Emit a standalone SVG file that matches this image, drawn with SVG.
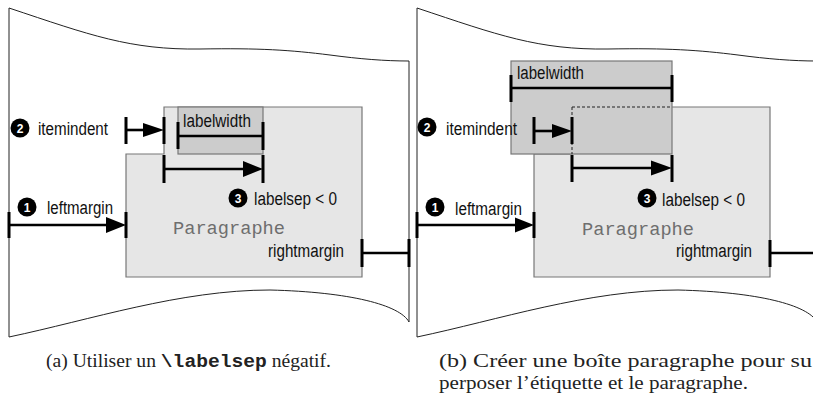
<svg xmlns="http://www.w3.org/2000/svg" width="813" height="395" viewBox="0 0 813 395">
<style>
.page{fill:none;stroke:#222;stroke-width:1}
.para{fill:#e6e6e6;stroke:#777;stroke-width:1.2}
.lab{fill:#cccccc;stroke:#777;stroke-width:1.2}
.dash{fill:none;stroke:#222;stroke-width:1;stroke-dasharray:3 2}
.m{fill:none;stroke:#000;stroke-width:2.6}
.t{fill:none;stroke:#000;stroke-width:3}
.ah{fill:#000}
.lbl{font-family:"Liberation Sans",Arial,sans-serif;font-size:18px;fill:#111}
.mono{font-family:"Liberation Mono","Courier New",monospace;font-size:18px;fill:#6e6e6e}
.num{fill:#000}
.numt{font-family:"Liberation Sans",Arial,sans-serif;font-size:12px;font-weight:bold;fill:#fff;text-anchor:middle}
.cap{font-family:"Liberation Serif","Times New Roman",serif;font-size:18.5px;fill:#222}
.tt{font-family:"Liberation Mono","Courier New",monospace;font-weight:bold}
</style>

<g id="page-a">
  <path class="page" d="M9,8 C90,35 130,50 200,49 C260,48 290,50 330,55 C360,59 385,61 409,61"/>
  <path class="page" d="M9,8 V337"/>
  <path class="page" d="M409,61 V322"/>
  <path class="page" d="M9,337 C90,320 180,290 270,290 C350,292 400,305 409,322"/>
</g>
<g id="page-b">
  <path class="page" d="M417,8 C498,35 538,50 608,49 C668,48 698,50 738,55 C768,59 793,61 817,61"/>
  <path class="page" d="M417,8 V337"/>
  <path class="page" d="M417,337 C498,320 588,290 678,290 C758,292 808,305 817,322"/>
</g>

<g id="paragraph-a">
  <path class="para" d="M164,107 H362 V277 H126 V154 H164 Z"/>
  <text class="mono" x="173" y="234" textLength="112" lengthAdjust="spacingAndGlyphs">Paragraphe</text>
</g>
<g id="label-a">
  <rect class="lab" x="178" y="107" width="85" height="47"/>
  <text class="lbl" x="183" y="127" textLength="68" lengthAdjust="spacingAndGlyphs">labelwidth</text>
</g>

<g id="paragraph-b">
  <path class="para" d="M572,107 H770 V277 H534 V154 H572 Z"/>
  <text class="mono" x="582" y="235" textLength="112" lengthAdjust="spacingAndGlyphs">Paragraphe</text>
</g>
<g id="label-b">
  <rect class="lab" x="511" y="61" width="161" height="93"/>
  <path class="dash" d="M572,107 H672 M572,107 V154"/>
  <text class="lbl" x="517" y="79" textLength="67" lengthAdjust="spacingAndGlyphs">labelwidth</text>
</g>

<g id="connectors">
  <path class="t" d="M178,122 V149 M263,122 V150"/>
  <path class="m" d="M178,136 H263"/>
  <path class="t" d="M126,117 V144 M164,117 V144"/>
  <path class="m" d="M126,130 H146"/>
  <path class="ah" d="M143,123 L164,130 L143,137 Z"/>
  <path class="t" d="M164,155 V183 M263,155 V183"/>
  <path class="m" d="M164,169 H246"/>
  <path class="ah" d="M243,161 L263,169 L243,177 Z"/>
  <path class="t" d="M9,212 V238 M126,212 V238"/>
  <path class="m" d="M9,225 H109"/>
  <path class="ah" d="M106,217 L126,225 L106,233 Z"/>
  <path class="t" d="M362,239 V267 M409,239 V267"/>
  <path class="m" d="M362,253 H409"/>
  <path class="t" d="M511,75 V102 M672,75 V102"/>
  <path class="m" d="M511,88 H672"/>
  <path class="t" d="M534,117 V144 M572,117 V144"/>
  <path class="m" d="M534,131 H555"/>
  <path class="ah" d="M552,124 L572,131 L552,138 Z"/>
  <path class="t" d="M572,155 V182 M672,155 V182"/>
  <path class="m" d="M572,168 H654"/>
  <path class="ah" d="M651,160.5 L672,168 L651,175.5 Z"/>
  <path class="t" d="M417,212 V238 M534,212 V238"/>
  <path class="m" d="M417,225 H518"/>
  <path class="ah" d="M515,217.5 L534,225 L515,232.5 Z"/>
  <path class="t" d="M770,240 V267"/>
  <path class="m" d="M770,253 H813"/>
</g>

<g id="labels-a">
  <circle class="num" cx="20" cy="128" r="9.5"/><text class="numt" x="20" y="132.5">2</text>
  <text class="lbl" x="38" y="135" textLength="70" lengthAdjust="spacingAndGlyphs">itemindent</text>
  <circle class="num" cx="238" cy="198" r="9.5"/><text class="numt" x="238" y="202.5">3</text>
  <text class="lbl" x="254" y="205" textLength="83" lengthAdjust="spacingAndGlyphs">labelsep &lt; 0</text>
  <circle class="num" cx="27" cy="207" r="9.5"/><text class="numt" x="27" y="211.5">1</text>
  <text class="lbl" x="47" y="214" textLength="66" lengthAdjust="spacingAndGlyphs">leftmargin</text>
  <text class="lbl" x="268" y="257" textLength="76" lengthAdjust="spacingAndGlyphs">rightmargin</text>
</g>
<g id="labels-b">
  <circle class="num" cx="427" cy="127" r="9.5"/><text class="numt" x="427" y="131.5">2</text>
  <text class="lbl" x="446" y="135" textLength="71" lengthAdjust="spacingAndGlyphs">itemindent</text>
  <circle class="num" cx="647" cy="198" r="9.5"/><text class="numt" x="647" y="202.5">3</text>
  <text class="lbl" x="662" y="206" textLength="83" lengthAdjust="spacingAndGlyphs">labelsep &lt; 0</text>
  <circle class="num" cx="435" cy="207" r="9.5"/><text class="numt" x="435" y="211.5">1</text>
  <text class="lbl" x="455" y="215" textLength="67" lengthAdjust="spacingAndGlyphs">leftmargin</text>
  <text class="lbl" x="676" y="257" textLength="76" lengthAdjust="spacingAndGlyphs">rightmargin</text>
</g>

<g id="captions">
  <text class="cap" x="46" y="367" textLength="285" lengthAdjust="spacingAndGlyphs">(a) Utiliser un <tspan class="tt">\labelsep</tspan> négatif.</text>
  <text class="cap" x="439" y="367" textLength="373" lengthAdjust="spacingAndGlyphs">(b) Créer une boîte paragraphe pour su</text>
  <text class="cap" x="439" y="389" textLength="309" lengthAdjust="spacingAndGlyphs">perposer l’étiquette et le paragraphe.</text>
</g>
</svg>
